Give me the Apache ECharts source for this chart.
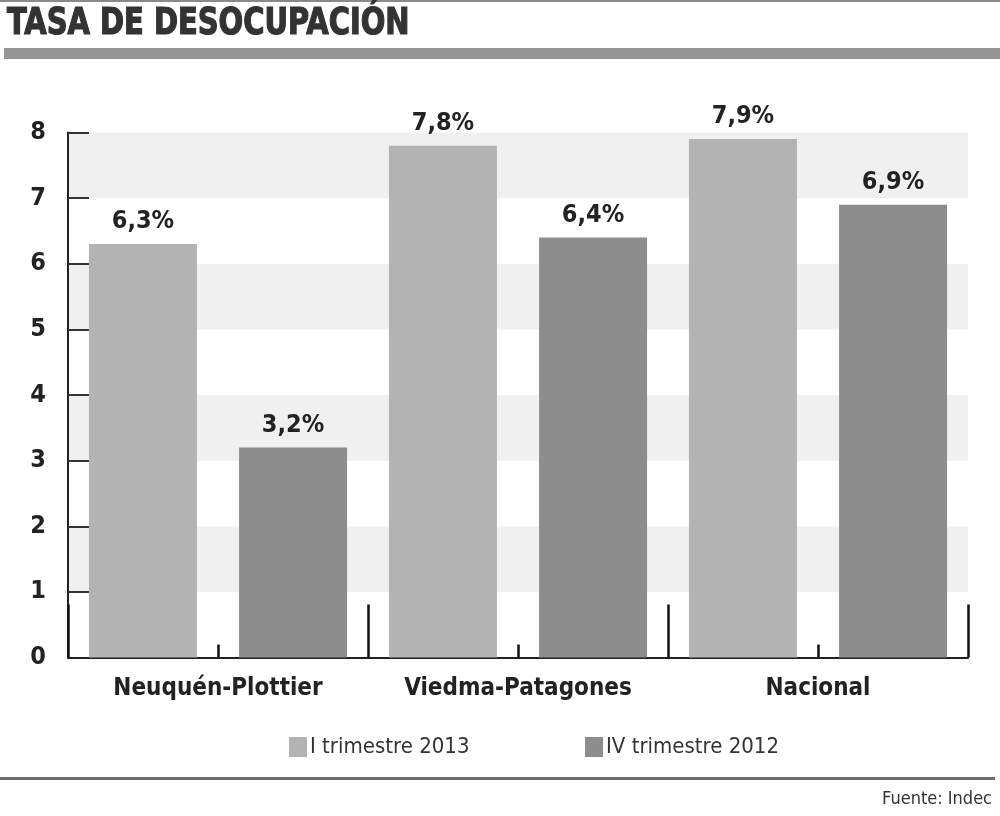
<!DOCTYPE html>
<html>
<head>
<meta charset="utf-8">
<title>Tasa de desocupación</title>
<script src="https://cdn.jsdelivr.net/npm/echarts@6/dist/echarts.min.js"></script>
<style>
    html, body { margin: 0; padding: 0; background: #fff; }
    #chart { width: 1000px; height: 816px; }
</style>
</head>
<body>
<div id="chart"></div>
<script>
const categories = ["Neuquén-Plottier", "Viedma-Patagones", "Nacional"]
const seriesNames = ["I trimestre 2013", "IV trimestre 2012"]
const trim2013 = [6.3, 7.8, 7.9]
const trim2012 = [3.2, 6.4, 6.9]
const yTicks = [0, 1, 2, 3, 4, 5, 6, 7, 8]

const narrow = "'Liberation Sans Narrow', 'DejaVu Sans Condensed', sans-serif"
const colors = ["#b3b3b3", "#8d8d8d"]

let chartDom = document.getElementById("chart")
let myChart = echarts.init(chartDom)
let option

// etiqueta de valor con coma decimal
const valueLabel = {
    show: true,
    position: "top",
    distance: 10,
    fontFamily: narrow,
    fontWeight: "bold",
    fontSize: 25,
    color: "#222",
    formatter: (p) => `${p.value.toFixed(1).replace(".", ",")}%`,
}

option = {
    animation: false,
    backgroundColor: "#fff",
    legend: [0, 1].map((i) => ({
        data: [seriesNames[i]],
        left: i === 0 ? 289 : 585,
        top: 736,
        padding: 0,
        itemWidth: 18,
        itemHeight: 20,
        itemGap: 4,
        icon: "rect",
        textStyle: {
            fontFamily: narrow,
            fontSize: 22,
            color: "#333",
            padding: [0, 0, 0, -2],
        },
    })),
    grid: {
        left: 68,
        right: 32,
        top: 132.5,
        bottom: 158.5,
        containLabel: false,
    },
    xAxis: [
        {
            type: "category",
            data: categories,
            z: 1, // por encima de las franjas del eje y
            axisLine: { lineStyle: { color: "#222", width: 2 } },
            axisTick: { show: true, inside: true, length: 53, lineStyle: { color: "#111", width: 2.5 } },
            axisLabel: {
                interval: 0,
                margin: 19,
                fontFamily: narrow,
                fontWeight: "bold",
                fontSize: 24,
                color: "#222",
            },
        },
        {
            // marcas cortas al centro de cada grupo
            type: "category",
            data: categories,
            position: "bottom",
            z: 1,
            axisLine: { show: false },
            axisTick: { show: true, inside: true, alignWithLabel: true, length: 13, lineStyle: { color: "#111", width: 2.5 } },
            axisLabel: { show: false },
        },
    ],
    yAxis: {
        type: "value",
        min: yTicks[0],
        max: yTicks[yTicks.length - 1],
        interval: 1,
        axisLine: { show: true, lineStyle: { color: "#222", width: 2 } },
        axisTick: { show: true, inside: true, length: 21, lineStyle: { color: "#333", width: 2 } },
        axisLabel: {
            margin: 22,
            fontFamily: narrow,
            fontWeight: "bold",
            fontSize: 25,
            color: "#222",
        },
        splitLine: { show: false },
        splitArea: {
            show: true,
            areaStyle: { color: ["#ffffff", "#f0f0f0"] },
        },
    },
    series: [
        {
            name: seriesNames[0],
            type: "bar",
            data: trim2013,
            barWidth: 108,
            barGap: "39%",
            itemStyle: { color: colors[0] },
            label: valueLabel,
        },
        {
            name: seriesNames[1],
            type: "bar",
            data: trim2012,
            barWidth: 108,
            barGap: "39%",
            itemStyle: { color: colors[1] },
            label: valueLabel,
        },
    ],
    graphic: [
        { type: "rect", shape: { x: 0, y: 0, width: 1000, height: 2 }, style: { fill: "#8a8a8a" } },
        { type: "rect", shape: { x: 4, y: 48, width: 996, height: 11 }, style: { fill: "#949494" } },
        { type: "rect", shape: { x: 0, y: 777, width: 995, height: 3 }, style: { fill: "#6e6e6e" } },
        {
            // título, comprimido a lo ancho como la tipografía original
            type: "text",
            x: 7,
            y: 6,
            scaleX: 0.87,
            style: {
                text: "TASA DE DESOCUPACIÓN",
                fontFamily: narrow,
                fontWeight: "bold",
                fontSize: 37,
                fill: "#333",
                stroke: "#333",
                lineWidth: 1.2,
            },
        },
        {
            type: "text",
            right: 8,
            top: 790,
            style: {
                text: "Fuente: Indec",
                fontFamily: narrow,
                fontSize: 18,
                fill: "#333",
            },
        },
    ],
}

option && myChart.setOption(option)
</script>
</body>
</html>
